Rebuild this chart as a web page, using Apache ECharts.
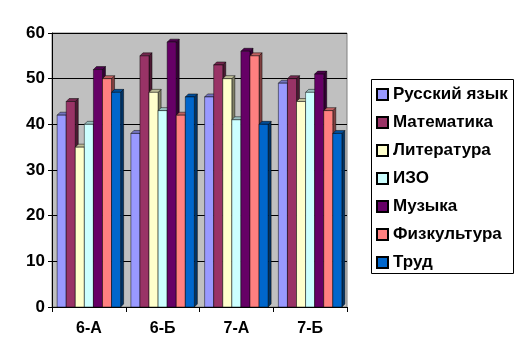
<!DOCTYPE html>
<html><head><meta charset="utf-8">
<script src="https://cdn.jsdelivr.net/npm/echarts@6/dist/echarts.min.js"></script>
<style>html,body{margin:0;padding:0;background:#fff}#c{width:530px;height:352px}</style>
</head><body><div id="c"></div>
<script>
const categories = ['6-А', '6-Б', '7-А', '7-Б'];
const seriesNames = ['Русский язык', 'Математика', 'Литература', 'ИЗО', 'Музыка', 'Физкультура', 'Труд'];
const russian = [42, 38, 46, 49];
const math = [45, 55, 53, 50];
const literature = [35, 47, 50, 45];
const art = [40, 43, 41, 47];
const music = [52, 58, 56, 51];
const pe = [50, 42, 55, 43];
const labor = [47, 46, 40, 38];
const yTicks = [0, 10, 20, 30, 40, 50, 60];
const colors = ['#9999FF', '#993366', '#FFFFCC', '#CCFFFF', '#660066', '#FF8080', '#0066CC'];
const values = [russian, math, literature, art, music, pe, labor];

function shade(hex, f) {
  const n = parseInt(hex.slice(1), 16);
  const r = Math.round(((n >> 16) & 255) * f), g = Math.round(((n >> 8) & 255) * f), b = Math.round((n & 255) * f);
  return 'rgb(' + r + ',' + g + ',' + b + ')';
}

const nSeries = seriesNames.length;
const series = seriesNames.map((name, si) => ({
  name: name,
  type: 'custom',
  itemStyle: { color: colors[si], borderColor: '#000', borderWidth: 1 },
  data: values[si].map((v, ci) => [ci, v]),
  renderItem: function (params, api) {
    const ci = api.value(0), v = api.value(1);
    const p = api.coord([ci, v]);
    const p0 = api.coord([ci, 0]);
    const band = api.size([1, 0])[0];
    const step = band * 0.123;
    const d = 3;
    const x = p[0] - (nSeries / 2) * step + si * step;
    const y = p[1], yb = p0[1];
    const stroke = { stroke: 'rgba(0,0,0,0.8)', lineWidth: 0.6 };
    return {
      type: 'group',
      children: [
        { type: 'polygon', shape: { points: [[x + step, y], [x + step + d, y - d], [x + step + d, yb - d], [x + step, yb]] },
          style: Object.assign({ fill: shade(colors[si], 0.5) }, stroke) },
        { type: 'polygon', shape: { points: [[x, y], [x + d, y - d], [x + step + d, y - d], [x + step, y]] },
          style: Object.assign({ fill: shade(colors[si], 0.75) }, stroke) },
        { type: 'rect', shape: { x: x, y: y, width: step, height: yb - y },
          style: Object.assign({ fill: colors[si] }, stroke) }
      ]
    };
  }
}));

const chart = echarts.init(document.getElementById('c'), null, { renderer: 'canvas' });
chart.setOption({
  animation: false,
  backgroundColor: '#fff',
  textStyle: { fontFamily: 'Liberation Sans, Arial, sans-serif' },
  grid: { left: 52, right: 183, top: 33, bottom: 45, show: true, backgroundColor: '#C0C0C0', borderColor: '#808080', borderWidth: 1 },
  xAxis: {
    type: 'category', data: categories,
    axisLine: { lineStyle: { color: '#000', width: 1 } },
    axisTick: { show: true, length: 5, lineStyle: { color: '#000' } },
    axisLabel: { fontSize: 16, fontWeight: 'bold', color: '#000', margin: 14, fontFamily: 'Liberation Sans, Arial' }
  },
  yAxis: {
    type: 'value', min: yTicks[0], max: yTicks[yTicks.length - 1], interval: 10,
    axisLine: { show: true, lineStyle: { color: '#000', width: 1 } },
    axisTick: { show: true, length: 4, lineStyle: { color: '#000' } },
    splitLine: { show: true, lineStyle: { color: '#000', width: 1 } },
    axisLabel: { fontSize: 17, fontWeight: 'bold', color: '#000', margin: 7, fontFamily: 'Liberation Sans, Arial' }
  },
  legend: {
    orient: 'vertical', left: 376, top: 86,
    icon: 'rect', itemWidth: 11, itemHeight: 11, itemGap: 11, itemTextGap: 5,
    padding: 0,
    textStyle: { fontSize: 17, fontWeight: 'bold', color: '#000', lineHeight: 17, fontFamily: 'Liberation Sans, Arial' },
    data: seriesNames
  },
  graphic: [{ type: 'rect', shape: { x: 371.5, y: 79.5, width: 142, height: 194 }, style: { fill: 'none', stroke: '#000', lineWidth: 1 }, z: 100 }],
  series: series
});
</script></body></html>
